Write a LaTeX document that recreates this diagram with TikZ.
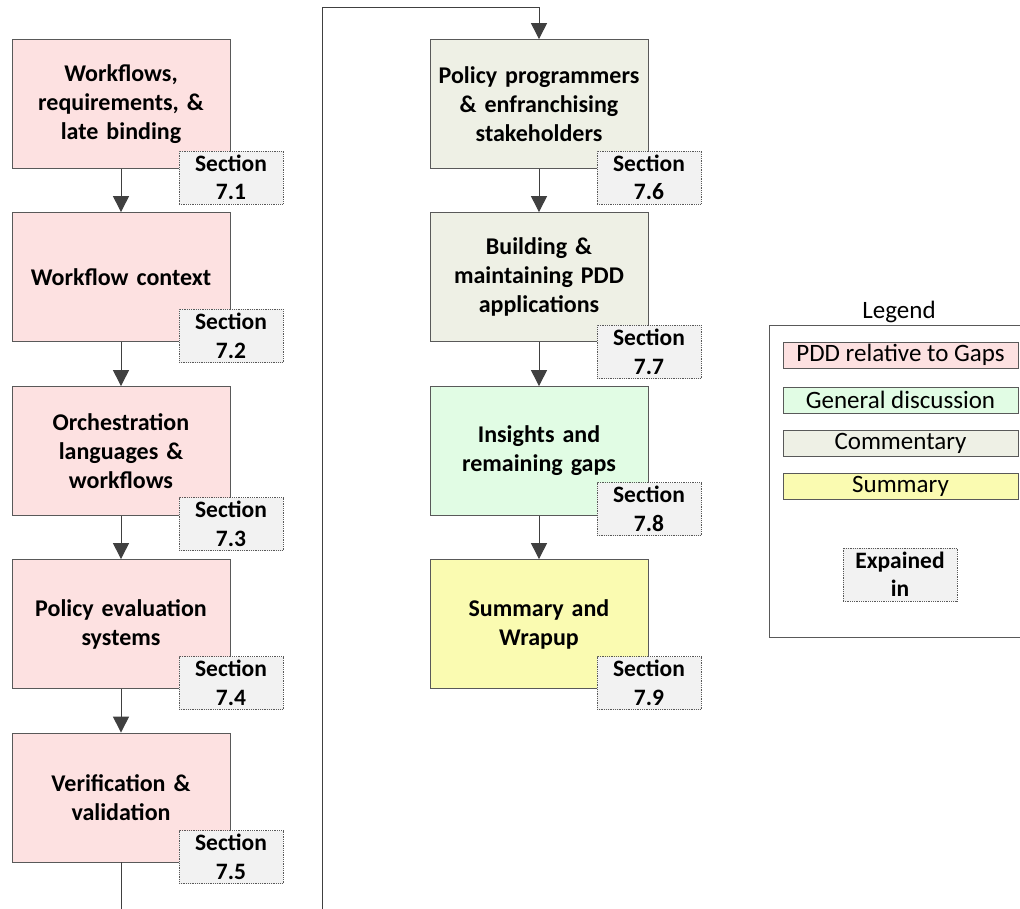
\documentclass[tikz,border=0pt]{standalone}
\usepackage{fontspec}
\setmainfont{Carlito}
\usetikzlibrary{arrows.meta}
\definecolor{gapfill}{HTML}{FDE1E1}
\definecolor{discfill}{HTML}{E1FCE4}
\definecolor{commfill}{HTML}{EEF0E5}
\definecolor{sumfill}{HTML}{FAFBB1}
\definecolor{tagfill}{HTML}{F2F2F2}
\definecolor{edgecol}{HTML}{595959}
\definecolor{linkcol}{HTML}{404040}
\tikzset{
  topic/.style={draw=edgecol, line width=0.8pt, minimum width=218pt, minimum height=129pt,
    text width=212pt, align=center, inner sep=0pt,
    font=\fontsize{24}{29}\selectfont\bfseries},
  tag/.style={draw=edgecol, densely dotted, line width=0.8pt, fill=tagfill,
    minimum width=104pt, minimum height=53pt, text width=100pt, align=center, inner sep=0pt,
    font=\fontsize{23.5}{28.5}\selectfont\bfseries},
  legitem/.style={draw=edgecol, line width=0.8pt, minimum width=235pt, minimum height=26pt,
    inner sep=0pt, font=\fontsize{25}{26}\selectfont},
  link/.style={draw=linkcol, line width=1pt},
  flow/.style={link, -{Triangle[length=16pt, width=16pt]}}
}
\begin{document}
\begin{tikzpicture}[x=1pt, y=-1pt]
\useasboundingbox (0,0) rectangle (1020,909);
\fill[white] (0,0) rectangle (1020,909);

% left column
\node[topic, fill=gapfill] (t1) at (121,104) {Workflows,\\ requirements, \&\\ late binding};
\node[topic, fill=gapfill] (t2) at (121,277) {Workflow context};
\node[topic, fill=gapfill] (t3) at (121,451) {Orchestration\\ languages \&\\ workflows};
\node[topic, fill=gapfill] (t4) at (121,624) {Policy evaluation\\ systems};
\node[topic, fill=gapfill] (t5) at (121,797.5) {Verification \&\\ validation};

% right column
\node[topic, fill=commfill] (t6) at (539,104) {Policy programmers\\ \& enfranchising\\ stakeholders};
\node[topic, fill=commfill] (t7) at (539,277) {Building \&\\ maintaining PDD\\ applications};
\node[topic, fill=discfill] (t8) at (539,451) {Insights and\\ remaining gaps};
\node[topic, fill=sumfill] (t9) at (539,624) {Summary and\\ Wrapup};

% section tags
\node[tag] (s1) at (231,177.5) {Section\\ 7.1};
\node[tag] (s2) at (231,336) {Section\\ 7.2};
\node[tag] (s3) at (231,524) {Section\\ 7.3};
\node[tag] (s4) at (231,683) {Section\\ 7.4};
\node[tag] (s5) at (231,857) {Section\\ 7.5};
\node[tag] (s6) at (649,177.5) {Section\\ 7.6};
\node[tag] (s7) at (649,352) {Section\\ 7.7};
\node[tag] (s8) at (649,509) {Section\\ 7.8};
\node[tag] (s9) at (649,683) {Section\\ 7.9};

% flow connectors
\draw[flow] (t1) -- (t2);
\draw[flow] (t2) -- (t3);
\draw[flow] (t3) -- (t4);
\draw[flow] (t4) -- (t5);
\draw[flow] (t6) -- (t7);
\draw[flow] (t7) -- (t8);
\draw[flow] (t8) -- (t9);

% page-break continuation from the left column to the right column
\coordinate (leftout) at (121,909);
\coordinate (rightin) at (322,909);
\coordinate (topturn) at (322,8);
\draw[link] (t5.south) -- (leftout);
\draw[flow] (rightin) -- (topturn) -| (t6.north);

% legend
\node[font=\fontsize{25}{26}\selectfont] (legtitle) at (899,312) {Legend};
\draw[edgecol, line width=0.8pt] (1022,325) -- (769,325) -- (769,637) -- (1022,637);
\node[legitem, fill=gapfill] (l1) at (900.5,355) {PDD relative to Gaps};
\node[legitem, fill=discfill] (l2) at (900.5,400) {General discussion};
\node[legitem, fill=commfill] (l3) at (900.5,443) {Commentary};
\node[legitem, fill=sumfill] (l4) at (900.5,486) {Summary};
\node[tag, minimum width=114pt, text width=110pt] (l5) at (900,574.5) {Expained\\ in};
\end{tikzpicture}
\end{document}
